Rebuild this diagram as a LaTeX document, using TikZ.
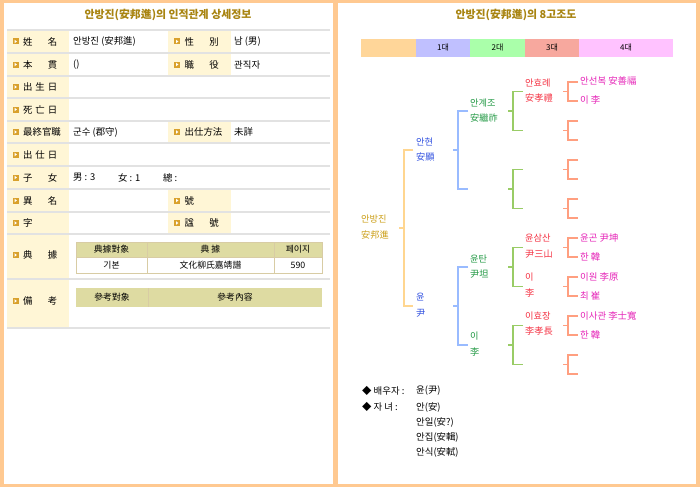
\documentclass[tikz,border=0pt]{standalone}
\usepackage{fontspec}
\setmainfont{Noto Sans CJK KR}
\definecolor{panelor}{HTML}{FFC991}
\definecolor{titc}{HTML}{A88410}
\definecolor{labbg}{HTML}{FFF6D6}
\definecolor{rowln}{HTML}{E2E2E2}
\definecolor{bulc}{HTML}{D9A12C}
\definecolor{thead}{HTML}{DEDBA2}
\definecolor{tbord}{HTML}{D8CCA4}
\definecolor{gen0}{HTML}{FFD699}
\definecolor{gen1}{HTML}{C0C0FF}
\definecolor{gen2}{HTML}{AAFFAA}
\definecolor{gen3}{HTML}{F7A89E}
\definecolor{gen4}{HTML}{FFC2FF}
\definecolor{c0}{HTML}{CCA01A}
\definecolor{c1}{HTML}{3050E0}
\definecolor{c2}{HTML}{229944}
\definecolor{c3}{HTML}{F53344}
\definecolor{c4}{HTML}{E625B8}
\definecolor{l0}{HTML}{FFD690}
\definecolor{l1}{HTML}{99BBFF}
\definecolor{l2}{HTML}{99CC66}
\definecolor{l3}{HTML}{FF9F80}
\newcommand\lbl[4]{%
  \fill[bulc] (#2,{#3-3}) rectangle ({#2+6},{#3+3});
  \fill[white] ({#2+2},{#3-1.8}) -- ({#2+4.4},#3) -- ({#2+2},{#3+1.8}) -- cycle;
  \node[txt] (#1) at ({#2+10.5},#3) {#4};}
\newcommand\brk[5]{%
  \draw[#1] ({#2-5},#3) -- (#2,#3);
  \draw[#1] ({#2+#5},{#3-#4}) -- (#2,{#3-#4}) -- (#2,{#3+#4}) -- ({#2+#5},{#3+#4});}
\newcommand\jb[1]{\makebox[34pt][s]{#1}}
\newcommand\hf{\hfill{}}
\begin{document}
\begin{tikzpicture}[x=1pt,y=-1pt,
  txt/.style={inner sep=0pt, anchor=west, font=\fontsize{9.4}{11}\selectfont},
  ctxt/.style={inner sep=0pt, anchor=center, font=\fontsize{8.8}{10}\selectfont},
  ttl/.style={inner sep=0pt, text=titc, font=\bfseries\fontsize{10.9}{12}\selectfont},
  tname/.style={inner sep=0pt, anchor=west, align=left, font=\fontsize{9.2}{15.5}\selectfont},
  rowline/.style={draw=rowln, line width=1.3pt},
  tline/.style={line width=1.1pt}]
\useasboundingbox (0,0) rectangle (700,487);
\fill[panelor] (0,0) rectangle (700,487);
\fill[white] (4,3) rectangle (333,484);
\fill[white] (338,3) rectangle (696,484);

% ---------- left panel ----------
\node[ttl] (ltitle) at (168,15) {안방진(安邦進)의 인적관계 상세정보};
\fill[labbg] (7,30) rectangle (69,328);
\fill[labbg] (168,30) rectangle (231,76);
\fill[labbg] (168,121) rectangle (231,143);
\fill[labbg] (168,189) rectangle (231,234);
\foreach \y in {30,53,76,98,121,143,166,189,212,234,279,328}
  \draw[rowline] (7,\y) -- (330,\y);

\lbl{la1}{12.5}{41.5}{\jb{姓\hf 名}}
\node[txt] (va1) at (73,41.5) {안방진 (安邦進)};
\lbl{lb1}{174}{41.5}{\jb{性\hf 別}}
\node[txt] (vb1) at (234,41.5) {남 (男)};
\lbl{la2}{12.5}{64.5}{\jb{本\hf 貫}}
\node[txt] (va2) at (73,64.5) {()};
\lbl{lb2}{174}{64.5}{\jb{職\hf 役}}
\node[txt] (vb2) at (234,64.5) {관직자};
\lbl{la3}{12.5}{87}{\jb{出\hf 生\hf 日}}
\lbl{la4}{12.5}{109.5}{\jb{死\hf 亡\hf 日}}
\lbl{la5}{12.5}{132}{最終官職}
\node[txt] (va5) at (73,132) {군수 (郡守)};
\lbl{lb5}{174}{132}{出仕方法}
\node[txt] (vb5) at (234,132) {未詳};
\lbl{la6}{12.5}{154.5}{\jb{出\hf 仕\hf 日}}
\lbl{la7}{12.5}{177.5}{\jb{子\hf 女}}
\node[txt] (va7a) at (73,177.5) {男 : 3};
\node[txt] (va7b) at (118,177.5) {女 : 1};
\node[txt] (va7c) at (163,177.5) {總 :};
\lbl{la8}{12.5}{200.5}{\jb{異\hf 名}}
\lbl{lb8}{174}{200.5}{號}
\lbl{la9}{12.5}{223}{字}
\lbl{lb9}{174}{223}{\jb{諡\hf 號}}
\lbl{la10}{12.5}{255}{\jb{典\hf 據}}
\lbl{la11}{12.5}{301}{\jb{備\hf 考}}

% inner table 1
\fill[thead] (76,242) rectangle (322,257);
\draw[tbord, line width=0.9pt] (76,242) rectangle (322,273);
\draw[tbord, line width=0.9pt] (76,257) -- (322,257);
\draw[tbord, line width=0.9pt] (147,242) -- (147,273);
\draw[tbord, line width=0.9pt] (274,242) -- (274,273);
\node[ctxt] (h1) at (111.5,249.5) {典據對象};
\node[ctxt] (h2) at (210.5,249.5) {典 據};
\node[ctxt] (h3) at (298,249.5) {페이지};
\node[ctxt] (d1) at (111.5,265) {기본};
\node[ctxt] (d2) at (210.5,265) {文化柳氏嘉靖譜};
\node[ctxt] (d3) at (298,265) {590};
% inner table 2
\fill[thead] (76,288) rectangle (322,307);
\draw[tbord, line width=0.9pt] (148,288) -- (148,307);
\node[ctxt] (h4) at (112,297.5) {參考對象};
\node[ctxt] (h5) at (235,297.5) {參考內容};

% ---------- right panel ----------
\node[ttl] (rtitle) at (516,15) {안방진(安邦進)의 8고조도};
\fill[gen0] (361,39.5) rectangle (416,56.5);
\fill[gen1] (416,39.5) rectangle (470,56.5);
\fill[gen2] (470,39.5) rectangle (525,56.5);
\fill[gen3] (525,39.5) rectangle (579,56.5);
\fill[gen4] (579,39.5) rectangle (673,56.5);
\node[ctxt, font=\fontsize{8}{9}\selectfont] (gb1) at (443,48) {1대};
\node[ctxt, font=\fontsize{8}{9}\selectfont] (gb2) at (497.5,48) {2대};
\node[ctxt, font=\fontsize{8}{9}\selectfont] (gb3) at (552,48) {3대};
\node[ctxt, font=\fontsize{8}{9}\selectfont] (gb4) at (626,48) {4대};

% brackets
\brk{tline,l0}{404}{228}{78}{9}
\foreach \y in {150,306} {\brk{tline,l1}{458}{\y}{39}{10}}
\foreach \y in {111,189,267,345} {\brk{tline,l2}{513}{\y}{19.5}{10}}
\foreach \y in {91.5,130.5,169.5,208.5,247.5,286.5,325.5,364.5} {\brk{tline,l3}{568}{\y}{9.5}{10}}

% names
\node[tname, text=c0] (root) at (361,227) {안방진\\安邦進};
\node[tname, text=c1] (g1a) at (416,149.5) {안현\\安顯};
\node[tname, text=c1] (g1b) at (416,305) {윤\\尹};
\node[tname, text=c2] (g2a) at (470,110.5) {안계조\\安繼祚};
\node[tname, text=c2] (g2c) at (470,266.5) {윤탄\\尹坦};
\node[tname, text=c2] (g2d) at (470,344) {이\\李};
\node[tname, text=c3] (g3a) at (525,90.5) {안효례\\安孝禮};
\node[tname, text=c3] (g3e) at (525,246) {윤삼산\\尹三山};
\node[tname, text=c3] (g3f) at (525,285) {이\\李};
\node[tname, text=c3] (g3g) at (525,323.5) {이효장\\李孝長};
\node[txt, text=c4] (g4a) at (580,81) {안선복 安善福};
\node[txt, text=c4] (g4b) at (580,100) {이 李};
\node[txt, text=c4] (g4i) at (580,237.5) {윤곤 尹坤};
\node[txt, text=c4] (g4j) at (580,256.5) {한 韓};
\node[txt, text=c4] (g4k) at (580,276.5) {이원 李原};
\node[txt, text=c4] (g4l) at (580,295.5) {최 崔};
\node[txt, text=c4] (g4m) at (580,315.5) {이사관 李士寬};
\node[txt, text=c4] (g4n) at (580,334.5) {한 韓};

% bottom list
\node[txt] (sp) at (362,391) {◆ 배우자 :};
\node[txt] (spv) at (416,391) {윤(尹)};
\node[txt] (ch) at (362,407) {◆ 자 녀 :};
\node[txt] (ch1) at (416,407) {안(安)};
\node[txt] (ch2) at (416,422) {안일(安?)};
\node[txt] (ch3) at (416,437) {안집(安輯)};
\node[txt] (ch4) at (416,452) {안식(安軾)};
\end{tikzpicture}
\end{document}
